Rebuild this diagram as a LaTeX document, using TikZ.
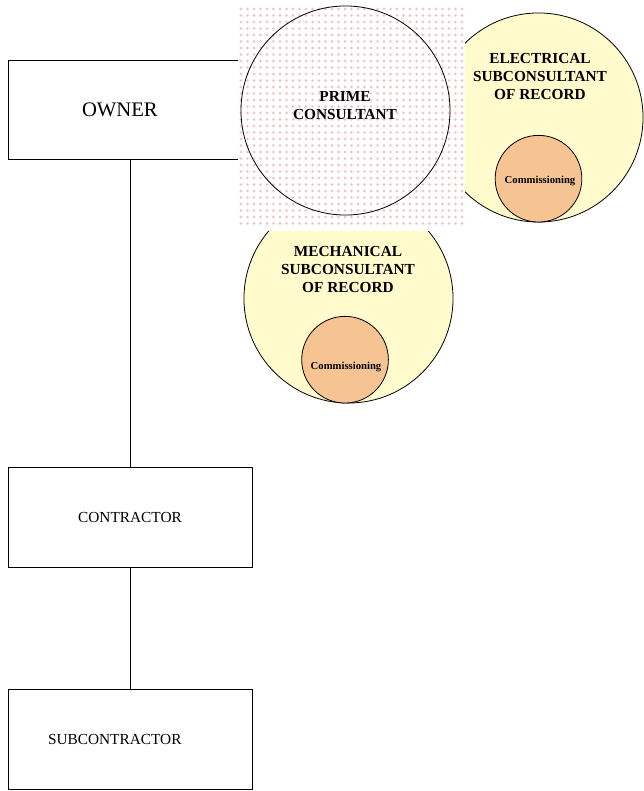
\documentclass[tikz,border=0pt]{standalone}
\usepackage{fontspec}
\setmainfont{Liberation Serif}
\usepackage{tikz}
\usetikzlibrary{positioning, calc}
\definecolor{subyellow}{RGB}{255,251,204}
\definecolor{cxorange}{RGB}{246,196,146}
\definecolor{dotpink}{RGB}{244,186,191}
\definecolor{halopink}{RGB}{252,232,234}
\tikzstyle{party} = [rectangle, minimum width=183pt, minimum height=74.5pt, draw=black, line width=0.6pt, fill=white, font=\fontsize{11.5}{13}\selectfont]
\tikzstyle{firm} = [circle, minimum size=156.8pt, inner sep=0pt, draw=black, line width=0.6pt]
\tikzstyle{subfirm} = [firm, fill=subyellow]
\tikzstyle{cx} = [circle, minimum size=65pt, inner sep=0pt, draw=black, line width=0.6pt, fill=cxorange]
\tikzstyle{firmtext} = [align=center, font=\fontsize{11.5}{13.5}\selectfont\bfseries]
\tikzstyle{cxtext} = [font=\fontsize{8}{9}\selectfont\bfseries]
\tikzstyle{link} = [-, line width=0.6pt]

\begin{document}
\begin{tikzpicture}[x=0.75pt, y=-0.75pt, node distance=166.5pt, align=center]
  \useasboundingbox (0,0) rectangle (643,791);
  % owner
  \node (owner) [party, font=\fontsize{15.5}{18}\selectfont, align=left, text width=72pt, inner xsep=55.5pt] at (130,110) {OWNER};

  % subconsultants
  \node (elec) [subfirm] at (538.5,117.5) {};
  \node (eleccx) [cx, above=0pt of elec.south] {};
  \node (elecname) [firmtext] at (540,77) {ELECTRICAL\\SUBCONSULTANT\\OF RECORD};
  \node (eleclbl) [cxtext] at (540,181) {Commissioning};

  \node (mech) [subfirm] at (348.5,298.5) {};
  \node (mechcx) [cx, above=0pt of mech.south, xshift=-2.6pt] {};
  \node (mechname) [firmtext] at (348,269) {MECHANICAL\\SUBCONSULTANT\\OF RECORD};
  \node (mechlbl) [cxtext] at (346,367) {Commissioning};

  % prime consultant
  \fill [white] (238,6) rectangle (465,231);
  \foreach \i in {0,...,34}
    \foreach \j in {0,...,33} {
      \fill [halopink] (241+6.5*\i, 9+6.5*\j) circle (1.4pt);
      \fill [dotpink] (241+6.5*\i, 9+6.5*\j) circle (0.8pt);
    }
  \node (prime) [firm] at (345.5,110.5) {};
  \node (primename) [firmtext] at (345,106) {PRIME\\CONSULTANT};

  % contractors
  \node (contr) [party, below of=owner, yshift=-139.1pt] {CONTRACTOR};
  \node (subcontr) [party, below of=contr, align=left, text width=123pt, inner xsep=30pt] {SUBCONTRACTOR};

  \draw [link] (owner) -- (contr);
  \draw [link] (contr) -- (subcontr);
\end{tikzpicture}
\end{document}
